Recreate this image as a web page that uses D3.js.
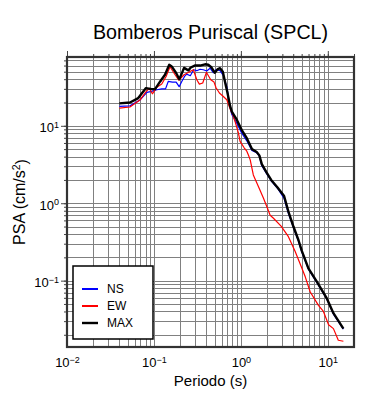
<!DOCTYPE html>
<html>
<head>
<meta charset="utf-8">
<script src="https://cdn.jsdelivr.net/npm/d3@7"></script>
<style>
  body { margin: 0; background: #fff; }
  text { font-family: "Liberation Sans", Arial, Helvetica, sans-serif; fill: #000; }
</style>
</head>
<body>
<div id="chart"></div>
<script>
// periods (s) and PSA (cm/s2)
const periodNS = [0.040, 0.053, 0.069, 0.083, 0.094, 0.108, 0.123, 0.136, 0.146, 0.163, 0.180, 0.195, 0.209, 0.225, 0.238, 0.262, 0.286, 0.311, 0.339, 0.370, 0.405, 0.442, 0.481, 0.518, 0.576, 0.629, 0.688, 0.751, 0.786, 0.897, 1.02, 1.17, 1.34, 1.52, 1.63, 1.74, 1.97, 2.23, 2.64, 3.14, 3.52, 4.02, 4.59, 5.02, 5.98, 7.47, 9.74, 11.6, 15.1];
const psaNS = [17.8, 18.1, 21.5, 27.0, 27.8, 29.2, 30.0, 30.0, 37.4, 36.7, 36.7, 32.0, 37.4, 43.4, 46.5, 44.4, 53.0, 51.5, 53.8, 53.0, 51.1, 55.5, 48.5, 53.0, 51.5, 44.4, 32.0, 17.5, 14.0, 10.8, 8.1, 6.4, 4.8, 4.5, 4.05, 3.05, 2.42, 1.95, 1.56, 1.15, 0.74, 0.485, 0.325, 0.234, 0.141, 0.095, 0.058, 0.037, 0.0236];

const periodEW = [0.040, 0.053, 0.069, 0.080, 0.088, 0.096, 0.108, 0.123, 0.138, 0.153, 0.175, 0.193, 0.222, 0.260, 0.284, 0.311, 0.333, 0.364, 0.401, 0.415, 0.450, 0.491, 0.518, 0.566, 0.629, 0.688, 0.759, 0.807, 0.858, 0.936, 0.979, 1.09, 1.17, 1.22, 1.28, 1.39, 1.59, 1.82, 1.99, 2.17, 2.37, 2.90, 3.52, 4.20, 5.02, 5.50, 6.26, 7.80, 8.90, 10.2, 11.6, 13.2, 15.1];
const psaEW = [16.9, 17.5, 21.5, 27.0, 30.5, 25.9, 31.5, 34.6, 43.4, 58.0, 45.7, 38.8, 45.7, 50.4, 53.0, 39.4, 34.6, 35.7, 49.0, 46.0, 39.4, 36.7, 31.0, 26.5, 23.9, 21.7, 16.1, 13.9, 11.3, 8.1, 6.3, 5.2, 4.7, 4.2, 3.63, 2.32, 1.64, 1.16, 0.90, 0.70, 0.64, 0.505, 0.37, 0.24, 0.146, 0.112, 0.072, 0.048, 0.040, 0.027, 0.024, 0.017, 0.0165];

const periodMAX = [0.040, 0.053, 0.066, 0.081, 0.094, 0.103, 0.118, 0.134, 0.150, 0.160, 0.180, 0.196, 0.222, 0.249, 0.265, 0.295, 0.339, 0.387, 0.421, 0.460, 0.500, 0.537, 0.576, 0.620, 0.660, 0.700, 0.751, 0.786, 0.897, 1.02, 1.17, 1.34, 1.52, 1.63, 1.74, 1.97, 2.23, 2.64, 3.14, 3.52, 4.02, 4.59, 5.02, 5.98, 7.47, 9.74, 11.6, 15.1];
const psaMAX = [19.5, 20.0, 22.8, 30.7, 29.8, 29.8, 37.4, 45.7, 61.5, 58.5, 48.1, 40.0, 56.0, 52.0, 56.6, 60.0, 60.0, 62.3, 61.5, 56.6, 48.5, 53.5, 55.5, 50.0, 36.0, 27.0, 18.1, 15.3, 12.0, 8.88, 6.93, 5.0, 4.6, 4.15, 3.2, 2.5, 2.0, 1.6, 1.24, 0.78, 0.50, 0.335, 0.242, 0.144, 0.097, 0.059, 0.038, 0.024];

const seriesNames = ["NS", "EW", "MAX"];
const seriesColors = ["#0000ff", "#ff0000", "#000000"];
const xMajor = [0.01, 0.1, 1, 10];
const yMajor = [0.1, 1, 10];
const xLabels = ["\u22122", "\u22121", "0", "1"];
const yLabels = ["\u22121", "0", "1"];

const W = 390, H = 400;
const pLeft = 67, pRight = 354, pTop = 57, pBottom = 347;

const svg = d3.select("#chart").append("svg")
    .attr("width", W)
    .attr("height", H);

const x = d3.scaleLog().domain([0.01, 20]).range([pLeft, pRight]);
const y = d3.scaleLog().domain([0.0139, 77.4]).range([pBottom, pTop]);

// grid, major and minor
const grid = svg.append("g").attr("stroke", "#808080").attr("stroke-width", 1);
grid.selectAll(".gx")
    .data(x.ticks())
    .join("line")
    .attr("x1", d => Math.round(x(d)) + 0.5)
    .attr("x2", d => Math.round(x(d)) + 0.5)
    .attr("y1", pTop)
    .attr("y2", pBottom);
grid.selectAll(".gy")
    .data(y.ticks())
    .join("line")
    .attr("y1", d => Math.round(y(d)) + 0.5)
    .attr("y2", d => Math.round(y(d)) + 0.5)
    .attr("x1", pLeft)
    .attr("x2", pRight);

// superscript label helper
const supLabel = (sel, exps, majors) => {
    sel.selectAll("text").each(function (d) {
        const t = d3.select(this);
        const i = majors.indexOf(d);
        t.text(null);
        t.append("tspan").text("10");
        t.append("tspan").attr("dy", "-0.5em").style("font-size", "9px").text(exps[i]);
    });
};

// top ticks
svg.append("g")
    .attr("transform", `translate(0,${pTop})`)
    .call(d3.axisTop(x).tickValues(x.ticks()).tickSize(3).tickFormat(""))
    .call(g => g.select(".domain").remove());
svg.append("g")
    .attr("transform", `translate(0,${pTop})`)
    .call(d3.axisTop(x).tickValues(xMajor).tickSize(6).tickFormat(""))
    .call(g => g.select(".domain").remove());

// bottom labels
const xAxis = svg.append("g")
    .attr("transform", `translate(0,${pBottom})`)
    .call(d3.axisBottom(x).tickValues(xMajor).tickSize(0).tickPadding(11))
    .call(g => g.select(".domain").remove());
xAxis.selectAll("text").style("font-size", "13px").attr("fill", "#000");
supLabel(xAxis, xLabels, xMajor);

// left ticks and labels
svg.append("g")
    .attr("transform", `translate(${pLeft},0)`)
    .call(d3.axisLeft(y).tickValues(y.ticks()).tickSize(3).tickFormat(""))
    .call(g => g.select(".domain").remove());
const yAxis = svg.append("g")
    .attr("transform", `translate(${pLeft},0)`)
    .call(d3.axisLeft(y).tickValues(yMajor).tickSize(6).tickPadding(2))
    .call(g => g.select(".domain").remove());
yAxis.selectAll("text").style("font-size", "13px").attr("fill", "#000").attr("dy", "0.45em");
supLabel(yAxis, yLabels, yMajor);

svg.selectAll(".tick line").attr("stroke", "#444");

// curves
const line = d3.line().x(d => x(d[0])).y(d => y(d[1]));
const curves = [
    [d3.zip(periodNS, psaNS), seriesColors[0], 1.2],
    [d3.zip(periodEW, psaEW), seriesColors[1], 1.2],
    [d3.zip(periodMAX, psaMAX), seriesColors[2], 2.4]
];
svg.append("g")
    .selectAll("path")
    .data(curves)
    .join("path")
    .attr("d", d => line(d[0]))
    .attr("fill", "none")
    .attr("stroke", d => d[1])
    .attr("stroke-width", d => d[2])
    .attr("stroke-linejoin", "round");

// frame
svg.append("rect")
    .attr("x", pLeft)
    .attr("y", pTop)
    .attr("width", pRight - pLeft)
    .attr("height", pBottom - pTop)
    .attr("fill", "none")
    .attr("stroke", "#333")
    .attr("stroke-width", 2.2);

// legend
const legend = svg.append("g").attr("transform", "translate(73,266)");
legend.append("rect")
    .attr("width", 80)
    .attr("height", 73)
    .attr("fill", "#fff")
    .attr("stroke", "#000")
    .attr("stroke-width", 1.5);
const items = legend.selectAll(".item")
    .data(seriesNames)
    .join("g")
    .attr("transform", (d, i) => `translate(0,${23 + i * 17})`);
items.append("line")
    .attr("x1", 9)
    .attr("x2", 25)
    .attr("stroke", (d, i) => seriesColors[i])
    .attr("stroke-width", (d, i) => i === 2 ? 2.4 : 2);
items.append("text")
    .attr("x", 34)
    .attr("dy", "0.36em")
    .style("font-size", "12px")
    .text(d => d);

// titles
svg.append("text")
    .attr("x", (pLeft + pRight) / 2)
    .attr("y", 39)
    .attr("text-anchor", "middle")
    .style("font-size", "19.7px")
    .text("Bomberos Puriscal (SPCL)");

svg.append("text")
    .attr("x", (pLeft + pRight) / 2)
    .attr("y", 386)
    .attr("text-anchor", "middle")
    .style("font-size", "15px")
    .text("Periodo (s)");

const yTitle = svg.append("text")
    .attr("transform", `translate(25,${(pTop + pBottom) / 2}) rotate(-90)`)
    .attr("text-anchor", "middle")
    .style("font-size", "16px");
yTitle.append("tspan").text("PSA (cm/s");
yTitle.append("tspan").attr("dy", "-0.45em").style("font-size", "10.5px").text("2");
yTitle.append("tspan").attr("dy", "0.45em").text(")");
</script>
</body>
</html>
